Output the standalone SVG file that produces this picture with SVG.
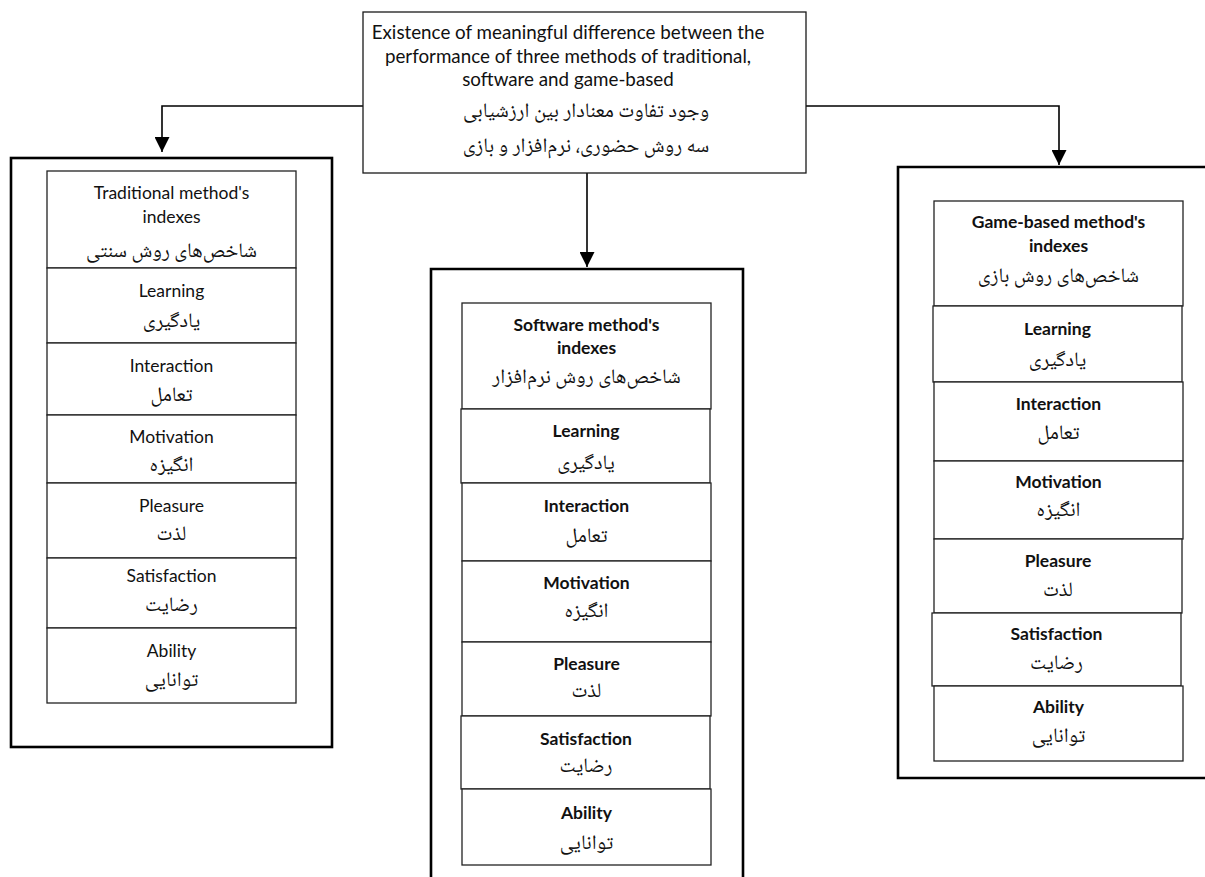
<svg xmlns="http://www.w3.org/2000/svg" width="1205" height="877" viewBox="0 0 1205 877">
  <style>
    .frame { fill: none; stroke: #000; stroke-width: 2.6; }
    .box { fill: #fff; stroke: #1a1a1a; stroke-width: 1.3; }
    .cell { fill: #fff; stroke: #222; stroke-width: 1.3; }
    .wire { fill: none; stroke: #000; stroke-width: 1.6; }
    .en { font-family: Lato, "Liberation Sans", sans-serif; font-size: 17.5px; fill: #111; text-anchor: middle; }
    .lead { font-size: 18.8px; }
    .b { font-weight: 700; }
    .fa { font-family: "Noto Naskh Arabic", "Noto Sans Arabic", "DejaVu Sans", sans-serif; font-size: 20.5px; fill: #111; text-anchor: middle; direction: rtl; }
  </style>
  <defs>
    <marker id="arrow" viewBox="0 0 10 10" refX="10" refY="5" markerWidth="15" markerHeight="15" markerUnits="userSpaceOnUse" orient="auto">
      <path d="M0,0 L10,5 L0,10 Z" fill="#000"/>
    </marker>
  </defs>

  <rect width="1205" height="877" fill="#fff"/>

  <!-- connectors from the hypothesis box to the three method frames -->
  <g id="connectors">
    <polyline class="wire" points="363,106 162,106 162,152" marker-end="url(#arrow)"/>
    <line class="wire" x1="587" y1="173" x2="587" y2="267" marker-end="url(#arrow)"/>
    <polyline class="wire" points="806,106 1059,106 1059,165" marker-end="url(#arrow)"/>
  </g>

  <!-- hypothesis -->
  <g id="hypothesis">
    <rect class="box" x="363" y="12" width="443" height="161"/>
    <text class="en lead" x="568" y="39">Existence of meaningful difference between the</text>
    <text class="en lead" x="568" y="63">performance of three methods of traditional,</text>
    <text class="en lead" x="568" y="86">software and game-based</text>
    <text class="fa" x="586" y="117">وجود تفاوت معنادار بین ارزشیابی</text>
    <text class="fa" x="586" y="152">سه روش حضوری، نرم&#x200C;افزار و بازی</text>
  </g>

  <!-- traditional method -->
  <g id="traditional">
    <rect class="frame" x="11" y="158" width="321" height="589"/>
    <g id="trad-title">
      <rect class="cell" x="47" y="171" width="249" height="97"/>
      <text class="en" x="171.5" y="199">Traditional method's</text>
      <text class="en" x="171.5" y="223">indexes</text>
      <text class="fa" x="171.5" y="257">شاخص&#x200C;های روش سنتی</text>
    </g>
    <g id="trad-learning">
      <rect class="cell" x="47" y="268" width="249" height="75"/>
      <text class="en" x="171.5" y="297">Learning</text>
      <text class="fa" x="171.5" y="327">یادگیری</text>
    </g>
    <g id="trad-interaction">
      <rect class="cell" x="47" y="343" width="249" height="72"/>
      <text class="en" x="171.5" y="372">Interaction</text>
      <text class="fa" x="171.5" y="401">تعامل</text>
    </g>
    <g id="trad-motivation">
      <rect class="cell" x="47" y="415" width="249" height="68"/>
      <text class="en" x="171.5" y="443">Motivation</text>
      <text class="fa" x="171.5" y="471">انگیزه</text>
    </g>
    <g id="trad-pleasure">
      <rect class="cell" x="47" y="483" width="249" height="75"/>
      <text class="en" x="171.5" y="512">Pleasure</text>
      <text class="fa" x="171.5" y="540">لذت</text>
    </g>
    <g id="trad-satisfaction">
      <rect class="cell" x="47" y="558" width="249" height="70"/>
      <text class="en" x="171.5" y="582">Satisfaction</text>
      <text class="fa" x="171.5" y="611">رضایت</text>
    </g>
    <g id="trad-ability">
      <rect class="cell" x="47" y="628" width="249" height="75"/>
      <text class="en" x="171.5" y="657">Ability</text>
      <text class="fa" x="171.5" y="686">توانایی</text>
    </g>
  </g>

  <!-- software method (frame runs past the bottom edge) -->
  <g id="software">
    <polyline class="frame" points="431,880 431,269 743,269 743,880"/>
    <g id="soft-title">
      <rect class="cell" x="462" y="303" width="249" height="106"/>
      <text class="en b" x="586.5" y="331">Software method's</text>
      <text class="en b" x="586.5" y="354">indexes</text>
      <text class="fa" x="586.5" y="383">شاخص&#x200C;های روش نرم&#x200C;افزار</text>
    </g>
    <g id="soft-learning">
      <rect class="cell" x="461" y="409" width="249" height="74"/>
      <text class="en b" x="586" y="437">Learning</text>
      <text class="fa" x="586" y="469">یادگیری</text>
    </g>
    <g id="soft-interaction">
      <rect class="cell" x="462" y="483" width="249" height="78"/>
      <text class="en b" x="586.5" y="512">Interaction</text>
      <text class="fa" x="586.5" y="542">تعامل</text>
    </g>
    <g id="soft-motivation">
      <rect class="cell" x="462" y="561" width="249" height="81"/>
      <text class="en b" x="586.5" y="589">Motivation</text>
      <text class="fa" x="586.5" y="617">انگیزه</text>
    </g>
    <g id="soft-pleasure">
      <rect class="cell" x="462" y="642" width="249" height="74"/>
      <text class="en b" x="586.5" y="670">Pleasure</text>
      <text class="fa" x="586.5" y="697">لذت</text>
    </g>
    <g id="soft-satisfaction">
      <rect class="cell" x="461" y="716" width="249" height="73"/>
      <text class="en b" x="586" y="745">Satisfaction</text>
      <text class="fa" x="586" y="772">رضایت</text>
    </g>
    <g id="soft-ability">
      <rect class="cell" x="462" y="789" width="249" height="76"/>
      <text class="en b" x="586.5" y="819">Ability</text>
      <text class="fa" x="586.5" y="849">توانایی</text>
    </g>
  </g>

  <!-- game-based method (frame runs past the right edge) -->
  <g id="game">
    <polyline class="frame" points="1210,167 898,167 898,778 1210,778"/>
    <g id="game-title">
      <rect class="cell" x="934" y="201" width="249" height="105"/>
      <text class="en b" x="1058.5" y="228">Game-based method's</text>
      <text class="en b" x="1058.5" y="252">indexes</text>
      <text class="fa" x="1058.5" y="282">شاخص&#x200C;های روش بازی</text>
    </g>
    <g id="game-learning">
      <rect class="cell" x="933" y="306" width="249" height="76"/>
      <text class="en b" x="1057.5" y="335">Learning</text>
      <text class="fa" x="1057.5" y="366">یادگیری</text>
    </g>
    <g id="game-interaction">
      <rect class="cell" x="934" y="382" width="249" height="79"/>
      <text class="en b" x="1058.5" y="410">Interaction</text>
      <text class="fa" x="1058.5" y="439">تعامل</text>
    </g>
    <g id="game-motivation">
      <rect class="cell" x="934" y="461" width="249" height="78"/>
      <text class="en b" x="1058.5" y="488">Motivation</text>
      <text class="fa" x="1058.5" y="516">انگیزه</text>
    </g>
    <g id="game-pleasure">
      <rect class="cell" x="934" y="539" width="248" height="74"/>
      <text class="en b" x="1058" y="567">Pleasure</text>
      <text class="fa" x="1058" y="596">لذت</text>
    </g>
    <g id="game-satisfaction">
      <rect class="cell" x="932" y="613" width="249" height="73"/>
      <text class="en b" x="1056.5" y="640">Satisfaction</text>
      <text class="fa" x="1056.5" y="669">رضایت</text>
    </g>
    <g id="game-ability">
      <rect class="cell" x="934" y="686" width="249" height="75"/>
      <text class="en b" x="1058.5" y="713">Ability</text>
      <text class="fa" x="1058.5" y="742">توانایی</text>
    </g>
  </g>
</svg>
